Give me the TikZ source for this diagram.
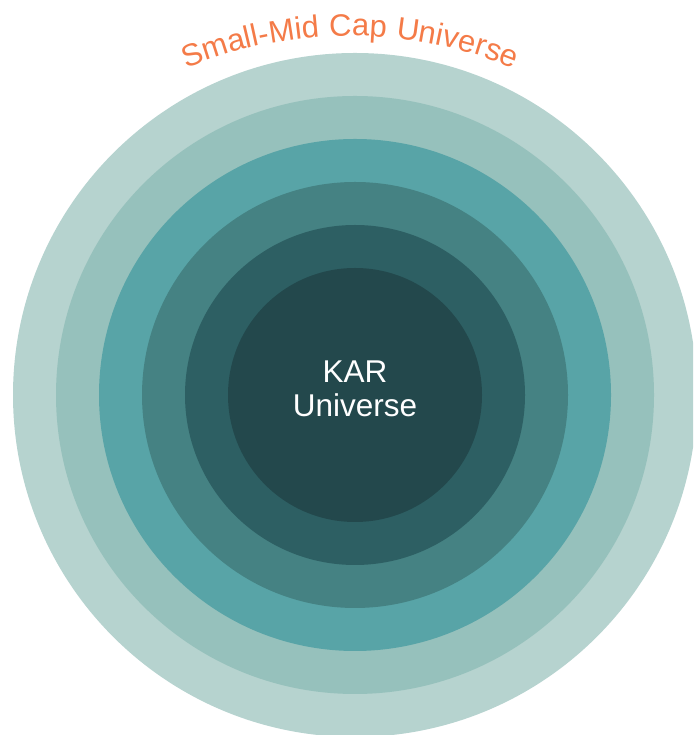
\documentclass[tikz,border=0pt]{standalone}
\usepackage{fontspec}
\setmainfont{Liberation Sans}
\newfontfamily\arcfont[LetterSpace=3]{Liberation Sans}
\usetikzlibrary{decorations.text}
\definecolor{ringA}{HTML}{B6D3CF}
\definecolor{ringB}{HTML}{96C1BC}
\definecolor{ringC}{HTML}{58A4A7}
\definecolor{ringD}{HTML}{458283}
\definecolor{ringE}{HTML}{2D5F63}
\definecolor{ringF}{HTML}{23484C}
\definecolor{titleorange}{HTML}{F47B48}
\tikzset{
  ring/.style={fill=#1, draw=none},
  centertext/.style={text=white, font=\fontsize{31.5}{34}\selectfont, inner sep=0pt, anchor=base}
}
\begin{document}
\begin{tikzpicture}[x=1pt,y=1pt]
\useasboundingbox (0,0) rectangle (693,735);
\clip (0,0) rectangle (693,735);
\coordinate (c) at (355,340);
\fill[ring=ringA] (c) circle[radius=342];
\fill[ring=ringB] (c) circle[radius=299];
\fill[ring=ringC] (c) circle[radius=256];
\fill[ring=ringD] (c) circle[radius=213];
\fill[ring=ringE] (c) circle[radius=170];
\fill[ring=ringF] (c) circle[radius=127];
\node[centertext] (kar) at (355,352) {KAR};
\node[centertext] (univ) at (355,318) {Universe};
\coordinate (tc) at (350,268);
\path[decorate, decoration={text along path, text align=center,
  text={|\arcfont\fontsize{31}{31}\selectfont\color{titleorange}|Small-Mid Cap Universe}}]
  (tc) ++(125:431) arc[start angle=125, end angle=55, radius=431];
\end{tikzpicture}
\end{document}
